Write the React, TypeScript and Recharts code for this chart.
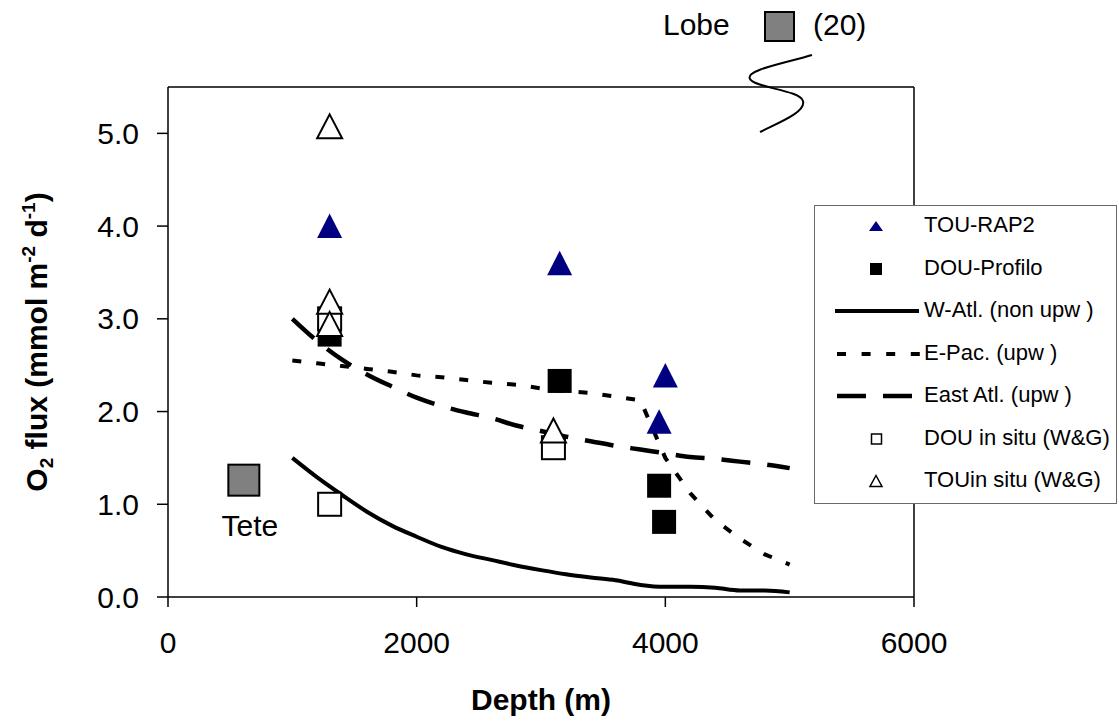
import React from 'react';
import {
  ComposedChart,
  Line,
  Scatter,
  XAxis,
  YAxis,
  ReferenceLine,
  Legend,
  Label,
} from 'recharts';

const FONT = '"Liberation Sans", Arial, Helvetica, sans-serif';
const NAVY = '#000080';

// measured points
const touRap2X = [1300, 3150, 4000, 3950];
const touRap2Y = [4.0, 3.6, 2.39, 1.89];
const douProfiloX = [1300, 3150, 3950, 3990];
const douProfiloY = [2.83, 2.33, 1.2, 0.81];
const douInSituX = [1300, 1300, 3100];
const douInSituY = [3.0, 1.0, 1.61];
const touInSituX = [1300, 1300, 1300, 3100];
const touInSituY = [5.07, 3.18, 2.94, 1.79];
const teteX = [610];
const teteY = [1.26];

// model curves
const curveDepths = [1000, 1200, 1400, 1600, 1800, 2000, 2200, 2400, 2600, 2800, 3000, 3200, 3400, 3600, 3800, 4000, 4200, 4400, 4600, 4800, 5000];
const wAtl = [1.5, 1.29, 1.1, 0.92, 0.77, 0.65, 0.54, 0.46, 0.4, 0.34, 0.29, 0.245, 0.21, 0.18, 0.13, 0.11, 0.11, 0.1, 0.07, 0.07, 0.05];
const ePac = [2.55, 2.52, 2.49, 2.46, 2.43, 2.39, 2.37, 2.34, 2.31, 2.29, 2.25, 2.22, 2.2, 2.16, 2.12, 1.5, 1.12, 0.83, 0.63, 0.46, 0.35];
const eastAtl = [3.0, 2.76, 2.56, 2.4, 2.27, 2.15, 2.06, 1.99, 1.93, 1.85, 1.79, 1.73, 1.68, 1.63, 1.59, 1.55, 1.51, 1.49, 1.46, 1.43, 1.39];

const xTicks = [0, 2000, 4000, 6000];
const yTicks = [0, 1, 2, 3, 4, 5];

const pts = (xs: number[], ys: number[]) => xs.map((x, i) => ({ x, y: ys[i] }));

const FilledTriangle = (p: any) => (
  <path d={`M${p.cx},${p.cy - 12.5}L${p.cx + 12.5},${p.cy + 12}L${p.cx - 12.5},${p.cy + 12}Z`} fill={NAVY} />
);
const FilledSquare = (p: any) => <rect x={p.cx - 12} y={p.cy - 12} width={24} height={24} fill="#000" />;
const OpenSquare = (p: any) => (
  <rect x={p.cx - 11.5} y={p.cy - 11.5} width={23} height={23} fill="#fff" stroke="#000" strokeWidth={2} />
);
const OpenTriangle = (p: any) => (
  <path
    d={`M${p.cx},${p.cy - 12.5}L${p.cx + 12.5},${p.cy + 11.5}L${p.cx - 12.5},${p.cy + 11.5}Z`}
    fill="#fff"
    stroke="#000"
    strokeWidth={2}
  />
);
const TeteSquare = (p: any) => (
  <g>
    <rect x={p.cx - 15.5} y={p.cy - 15.5} width={31} height={31} fill="#808080" stroke="#000" strokeWidth={2} />
    <text x={p.cx + 6} y={p.cy + 56} textAnchor="middle" fontSize={30} fontFamily={FONT} fill="#000">
      Tete
    </text>
  </g>
);

const legendRows = [
  { name: 'TOU-RAP2', kind: 'tri' },
  { name: 'DOU-Profilo', kind: 'sq' },
  { name: 'W-Atl. (non upw )', kind: 'solid' },
  { name: 'E-Pac. (upw )', kind: 'dot' },
  { name: 'East Atl. (upw )', kind: 'dash' },
  { name: 'DOU in situ (W&G)', kind: 'osq' },
  { name: 'TOUin situ (W&G)', kind: 'otri' },
];

const legendSymbol = (kind: string) => {
  switch (kind) {
    case 'tri':
      return <path d="M61,10L68,20L54,20Z" fill={NAVY} />;
    case 'sq':
      return <rect x={55} y={9} width={12} height={12} fill="#000" />;
    case 'solid':
      return <line x1={20} x2={104} y1={15} y2={15} stroke="#000" strokeWidth={4} />;
    case 'dot':
      return <line x1={22} x2={106} y1={15} y2={15} stroke="#000" strokeWidth={4} strokeDasharray="9 15.6" />;
    case 'dash':
      return <line x1={22} x2={104} y1={15} y2={15} stroke="#000" strokeWidth={4.5} strokeDasharray="29 17" />;
    case 'osq':
      return <rect x={56.5} y={10} width={10} height={10} fill="#fff" stroke="#000" strokeWidth={1.5} />;
    default:
      return <path d="M61,9.5L67,20.5L55,20.5Z" fill="#fff" stroke="#000" strokeWidth={1.5} />;
  }
};

const renderLegend = () => (
  <div
    style={{
      position: 'relative',
      width: 303,
      height: 299,
      border: '1px solid #6a6a6a',
      background: '#fff',
      boxSizing: 'border-box',
      fontFamily: FONT,
    }}
  >
    {legendRows.map((r, i) => (
      <div key={r.name} style={{ position: 'absolute', left: 0, top: 20 + i * 42.5 - 15, height: 30, width: 303 }}>
        <svg width={110} height={30} style={{ position: 'absolute', left: 0, top: 0 }}>
          {legendSymbol(r.kind)}
        </svg>
        <span style={{ position: 'absolute', left: 109, top: 1, fontSize: 22, lineHeight: '26px', whiteSpace: 'nowrap', color: '#000' }}>
          {r.name}
        </span>
      </div>
    ))}
  </div>
);

const YTitle = (props: any) => {
  const vb = props.viewBox;
  const cx = 47;
  const cy = vb.y + vb.height / 2;
  return (
    <text
      transform={`rotate(-90, ${cx}, ${cy})`}
      x={cx}
      y={cy}
      textAnchor="middle"
      fontWeight="bold"
      fontSize={30}
      fontFamily={FONT}
      fill="#000"
    >
      O<tspan fontSize={19} dy={6}>2</tspan>
      <tspan dy={-6}> flux (mmol m</tspan>
      <tspan fontSize={19} dy={-12}>-2</tspan>
      <tspan dy={12}> d</tspan>
      <tspan fontSize={19} dy={-12}>-1</tspan>
      <tspan dy={12}>)</tspan>
    </text>
  );
};

const XTitle = (props: any) => {
  const vb = props.viewBox;
  return (
    <text
      x={vb.x + vb.width / 2}
      y={vb.y + 113}
      textAnchor="middle"
      fontWeight="bold"
      fontSize={30}
      fontFamily={FONT}
      fill="#000"
    >
      Depth (m)
    </text>
  );
};

export default function App() {
  const tickStyle = { fill: '#000', fontSize: 30, fontFamily: FONT };
  return (
    <div style={{ position: 'absolute', left: 0, top: 0, width: 1119, height: 724, background: '#fff', fontFamily: FONT }}>
      <ComposedChart width={1119} height={724} margin={{ top: 87, right: 205, bottom: 0, left: 0 }}>
        <XAxis
          type="number"
          dataKey="x"
          domain={[0, 6000]}
          ticks={xTicks}
          allowDataOverflow
          height={127}
          tickSize={10}
          tickMargin={25}
          tick={tickStyle}
          axisLine={{ stroke: '#000', strokeWidth: 1.5 }}
          tickLine={{ stroke: '#000', strokeWidth: 1.5 }}
        >
          <Label content={XTitle} />
        </XAxis>
        <YAxis
          type="number"
          dataKey="y"
          domain={[0, 5.5]}
          ticks={yTicks}
          allowDataOverflow
          width={168}
          tickSize={11}
          tickMargin={18}
          tick={tickStyle}
          tickFormatter={(v: number) => v.toFixed(1)}
          axisLine={{ stroke: '#000', strokeWidth: 1.5 }}
          tickLine={{ stroke: '#000', strokeWidth: 1.5 }}
        >
          <Label content={YTitle} />
        </YAxis>
        <ReferenceLine y={5.5} stroke="#000" strokeWidth={1.5} />
        <ReferenceLine x={6000} stroke="#000" strokeWidth={1.5} />

        <Line data={pts(curveDepths, wAtl)} dataKey="y" type="monotone" stroke="#000" strokeWidth={4} dot={false} activeDot={false} isAnimationActive={false} name="W-Atl. (non upw )" />
        <Line data={pts(curveDepths, ePac)} dataKey="y" type="linear" stroke="#000" strokeWidth={4} strokeDasharray="9 15" dot={false} activeDot={false} isAnimationActive={false} name="E-Pac. (upw )" />
        <Line data={pts(curveDepths, eastAtl)} dataKey="y" type="monotone" stroke="#000" strokeWidth={4.5} strokeDasharray="29 17" dot={false} activeDot={false} isAnimationActive={false} name="East Atl. (upw )" />

        <Scatter data={pts(touRap2X, touRap2Y)} dataKey="y" shape={FilledTriangle} isAnimationActive={false} name="TOU-RAP2" />
        <Scatter data={pts(douProfiloX, douProfiloY)} dataKey="y" shape={FilledSquare} isAnimationActive={false} name="DOU-Profilo" />
        <Scatter data={pts(douInSituX, douInSituY)} dataKey="y" shape={OpenSquare} isAnimationActive={false} name="DOU in situ (W&G)" />
        <Scatter data={pts(touInSituX, touInSituY)} dataKey="y" shape={OpenTriangle} isAnimationActive={false} name="TOUin situ (W&G)" />
        <Scatter data={pts(teteX, teteY)} dataKey="y" shape={TeteSquare} isAnimationActive={false} name="Tete" legendType="none" />

        <Legend
          content={renderLegend}
          layout="horizontal"
          align="center"
          verticalAlign="middle"
          wrapperStyle={{ position: 'absolute', left: 814, top: 205, width: 303, height: 299 }}
        />
      </ComposedChart>

      {/* off-scale Lobe value and axis break */}
      <div style={{ position: 'absolute', left: 663, top: 7, fontSize: 30, lineHeight: '36px', color: '#000' }}>Lobe</div>
      <div style={{ position: 'absolute', left: 764, top: 11, width: 31, height: 31, background: '#808080', border: '2px solid #000', boxSizing: 'border-box' }} />
      <div style={{ position: 'absolute', left: 813, top: 7, fontSize: 30, lineHeight: '36px', color: '#000' }}>(20)</div>
      <svg width={1119} height={724} style={{ position: 'absolute', left: 0, top: 0, pointerEvents: 'none' }}>
        <path
          d="M812,55 C785,63 745,70 750,79 C755,88 800,90 803,101 C806,112 780,122 760,132"
          fill="none"
          stroke="#000"
          strokeWidth={2}
        />
      </svg>
    </div>
  );
}
